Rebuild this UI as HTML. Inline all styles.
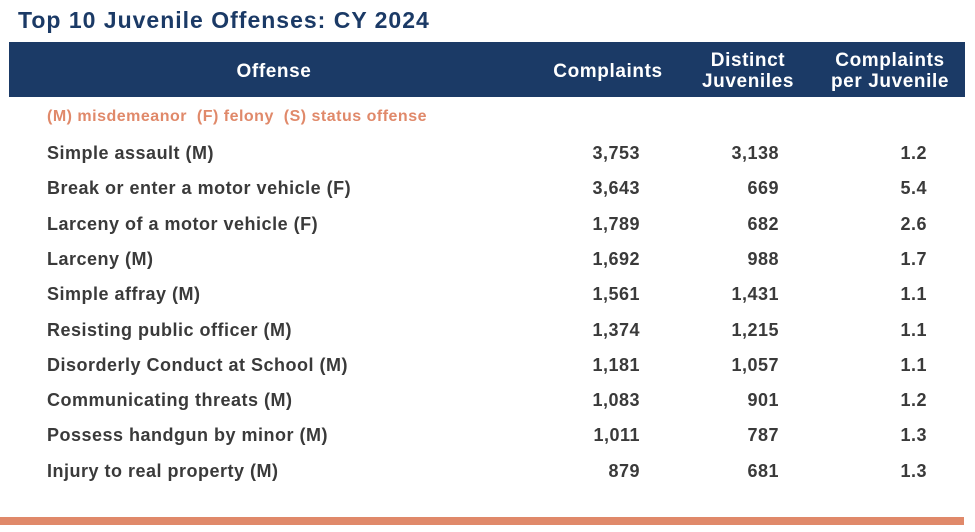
<!DOCTYPE html>
<html><head><meta charset="utf-8"><style>
html,body{margin:0;padding:0;background:#fff;width:975px;height:532px;overflow:hidden;position:relative;font-family:"Liberation Sans",sans-serif}
.t{position:absolute;white-space:nowrap}
#title{left:18px;top:7px;font-size:23px;font-weight:bold;color:#1b3a66;letter-spacing:1px}
#hdr{position:absolute;left:9px;top:42px;width:956px;height:55px;background:#1b3a66}
.h{position:absolute;color:#fff;font-weight:bold;font-size:19px;text-align:center;line-height:21px;transform:translateX(-50%);white-space:nowrap;letter-spacing:0.6px}
#legend{left:47px;top:108px;font-size:16px;font-weight:bold;color:#e0896a;letter-spacing:0.5px}
.lab{left:47px;font-size:18px;font-weight:bold;color:#3a3a3a;letter-spacing:0.5px}
.num{font-size:18px;font-weight:bold;color:#3a3a3a;text-align:right;letter-spacing:0.5px}
#bar{position:absolute;left:0;top:517px;width:964px;height:8px;background:#e0896a}
</style></head><body>
<div class="t" id="title">Top 10 Juvenile Offenses: CY 2024</div>
<div id="hdr">
<div class="h" style="left:265px;top:19px">Offense</div>
<div class="h" style="left:599px;top:19px">Complaints</div>
<div class="h" style="left:739px;top:8px">Distinct<br>Juveniles</div>
<div class="h" style="left:881px;top:8px">Complaints<br>per Juvenile</div>
</div>
<div class="t" id="legend">(M) misdemeanor&nbsp; (F) felony&nbsp; (S) status offense</div>
<div id="rows"></div>
<div id="bar"></div>
<script>
const offenses=["Simple assault (M)","Break or enter a motor vehicle (F)","Larceny of a motor vehicle (F)","Larceny (M)","Simple affray (M)","Resisting public officer (M)","Disorderly Conduct at School (M)","Communicating threats (M)","Possess handgun by minor (M)","Injury to real property (M)"];
const complaints=[3753,3643,1789,1692,1561,1374,1181,1083,1011,879];
const distinct=[3138,669,682,988,1431,1215,1057,901,787,681];
const perJuvenile=["1.2","5.4","2.6","1.7","1.1","1.1","1.1","1.2","1.3","1.3"];
const rows=document.getElementById('rows');
function mk(cls,txt,style){const d=document.createElement('div');d.className='t '+cls;d.textContent=txt;d.style.cssText=style;rows.appendChild(d);return d;}
offenses.forEach((o,i)=>{
  const top=143+i*35.3;
  const a=mk('lab',o,'top:'+top+'px');
  
  
  const b=mk('num',complaints[i].toLocaleString('en-US'),'top:'+top+'px;right:'+(975-640)+'px');
  
  
  const c=mk('num',distinct[i].toLocaleString('en-US'),'top:'+top+'px;right:'+(975-779)+'px');
  
  
  const d=mk('num',perJuvenile[i],'top:'+top+'px;right:'+(975-927)+'px');
  
  
});
</script>
</body></html>
